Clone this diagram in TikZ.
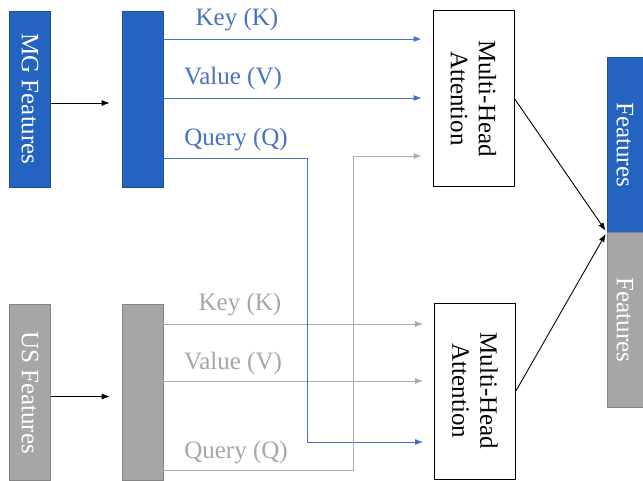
\documentclass[tikz,border=0pt]{standalone}
\usepackage{fontspec}
\setmainfont{Liberation Serif}
\usetikzlibrary{arrows.meta}
\definecolor{mgblue}{RGB}{36,99,191}
\definecolor{lineblue}{RGB}{68,114,196}
\definecolor{usgray}{RGB}{166,166,166}
\definecolor{linegray}{RGB}{172,172,172}

\begin{document}
\begin{tikzpicture}[x=1pt,y=-1pt,
    every node/.style={font=\fontsize{25}{28}\selectfont},
    bar/.style={draw=#1!80!black,fill=#1,line width=0.6pt,minimum width=41pt,minimum height=176pt,inner sep=0pt},
    attn/.style={draw,line width=0.8pt,fill=white,minimum width=81pt,minimum height=176pt,inner sep=0pt},
    tip/.style={-{Latex[length=8pt,width=6pt]},line width=0.9pt}]
        \useasboundingbox (0,0) rectangle (643,481);
        \newcommand{\inbranch}[4]{%
            % Feature bar and projection bar
            \node[bar=#3,label={[rotate=-90,text=white]center:#4}] (In#1) at (30,#2) {};
            \node[bar=#3] (Proj#1) at (142.5,#2) {};
            % Arrow between them
            \draw[tip,black,shorten >=12pt] ([yshift=-4pt]In#1.east) -- ([yshift=-4pt]Proj#1.west);
        }
        % Input branches
        \inbranch{MG}{99}{mgblue}{MG Features}
        \inbranch{US}{392.5}{usgray}{US Features}
        % Attention blocks
        \node[attn,label={[rotate=-90,align=center]center:{Multi-Head\\Attention}}] (AttnMG) at (473.5,98.5) {};
        \node[attn,label={[rotate=-90,align=center]center:{Multi-Head\\Attention}}] (AttnUS) at (475,391) {};
        % Fused features
        \node[bar=mgblue,minimum width=36pt,minimum height=175pt,label={[rotate=-90,text=white]center:Features}] (OutMG) at (625,144.5) {};
        \node[bar=usgray,minimum width=36pt,minimum height=175pt,label={[rotate=-90,text=white]center:Features}] (OutUS) at (625,320) {};
        % Line levels
        \foreach \n/\y in {KMG/39,VMG/98,QMG/158,KUS/324,VUS/381,QUS/470,QX/442,QY/156} {\coordinate (\n) at (0,\y);}
        \coordinate (TurnMG) at (307,158);
        \coordinate (TurnUS) at (353,470);
        % Key and value arrows
        \foreach \s/\c in {MG/lineblue,US/linegray} {\foreach \k in {K,V} {\draw[tip,\c,shorten >=11pt] (Proj\s.east |- \k\s) -- (Attn\s.west |- \k\s);}}
        % Crossed queries
        \draw[tip,lineblue,shorten >=11pt] (ProjMG.east |- QMG) -- (TurnMG) |- (AttnUS.west |- QX);
        \draw[tip,linegray,shorten >=11pt] (ProjUS.east |- QUS) -- (TurnUS) |- (AttnMG.west |- QY);
        % Line labels
        \foreach \n/\x/\y/\t in {LKMG/237/20/Key (K),LVMG/233/78/Value (V),LQMG/236/140/Query (Q)} {\node[text=lineblue] (\n) at (\x,\y) {\t};}
        \foreach \n/\x/\y/\t in {LKUS/240/305/Key (K),LVUS/233/363/Value (V),LQUS/236/453/Query (Q)} {\node[text=usgray] (\n) at (\x,\y) {\t};}
        % Output arrows
        \draw[tip,black,shorten >=2pt] (AttnMG.east) -- (OutMG.south west);
        \draw[tip,black,shorten >=2pt] (AttnUS.east) -- (OutUS.north west);
\end{tikzpicture}
\end{document}
